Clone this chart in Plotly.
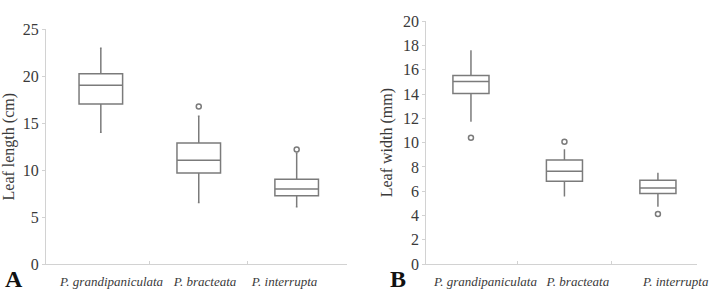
import plotly.graph_objects as go

# ---- data ----
species = ["P. grandipaniculata", "P. bracteata", "P. interrupta"]

# Panel A: leaf length (cm)
len_lower = [14.05, 6.55, 6.1]
len_q1 = [17.05, 9.7, 7.27]
len_median = [19.05, 11.05, 8.0]
len_q3 = [20.28, 12.9, 9.04]
len_upper = [23.0, 15.75, 11.8]
len_outlier_idx = [1, 2]
len_outlier_val = [16.8, 12.2]

# Panel B: leaf width (mm)
wid_lower = [11.78, 5.62, 4.79]
wid_q1 = [14.05, 6.83, 5.82]
wid_median = [15.04, 7.64, 6.27]
wid_q3 = [15.53, 8.57, 6.91]
wid_upper = [17.55, 9.4, 7.45]
wid_outlier_idx = [0, 1, 2]
wid_outlier_val = [10.4, 10.07, 4.12]

len_ticks = [0, 5, 10, 15, 20, 25]
wid_ticks = [0, 2, 4, 6, 8, 10, 12, 14, 16, 18, 20]

# ---- style ----
BOX = "#7b7b7b"
AX = "#d2d2d2"
TXT = "#3a3a3a"
FONT = "Liberation Serif, Times New Roman, serif"
pos = [0, 1, 2]
labA_pos = [0.11, 1.064, 1.876]
labB_pos = [0.155, 1.144, 2.19]

fig = go.Figure()

fig.add_trace(go.Box(
    x=pos, q1=len_q1, median=len_median, q3=len_q3,
    lowerfence=len_lower, upperfence=len_upper,
    width=0.445, whiskerwidth=0.04, fillcolor="white",
    line=dict(color=BOX, width=1.5), boxpoints=False,
    xaxis="x", yaxis="y", showlegend=False, hoverinfo="skip"))
fig.add_trace(go.Scatter(
    x=len_outlier_idx, y=len_outlier_val, mode="markers",
    marker=dict(symbol="circle-open", size=5, color=BOX, line=dict(width=1.5)),
    xaxis="x", yaxis="y", showlegend=False))

fig.add_trace(go.Box(
    x=pos, q1=wid_q1, median=wid_median, q3=wid_q3,
    lowerfence=wid_lower, upperfence=wid_upper,
    width=0.386, whiskerwidth=0.04, fillcolor="white",
    line=dict(color=BOX, width=1.5), boxpoints=False,
    xaxis="x2", yaxis="y2", showlegend=False, hoverinfo="skip"))
fig.add_trace(go.Scatter(
    x=wid_outlier_idx, y=wid_outlier_val, mode="markers",
    marker=dict(symbol="circle-open", size=5, color=BOX, line=dict(width=1.5)),
    xaxis="x2", yaxis="y2", showlegend=False))

H = 296.0
yb = (H - 271.7) / H

common_x = dict(showgrid=False, zeroline=False, showline=True, linecolor=AX, linewidth=1,
                ticks="", ticklabelstandoff=5, tickfont=dict(family=FONT, size=13, color=TXT),
                minor=dict(tickvals=[0.5, 1.5], ticks="inside", ticklen=3, tickcolor=AX))
common_y = dict(showgrid=False, zeroline=False, showline=True, linecolor=AX, linewidth=1,
                ticks="outside", ticklen=3, tickcolor=AX,
                tickfont=dict(family=FONT, size=16, color=TXT))

fig.update_layout(
    width=720, height=296, margin=dict(l=0, r=0, t=0, b=0),
    paper_bgcolor="white", plot_bgcolor="white",
    xaxis=dict(domain=[46.7 / 720, 352 / 720], range=[-0.56, 2.51],
               tickvals=labA_pos, ticktext=["<i>%s</i>" % s for s in species],
               anchor="y", **common_x),
    yaxis=dict(domain=[yb, (H - 22.7) / H], range=[0, 25], tickvals=len_ticks,
               anchor="x",
               title=dict(text="Leaf length (cm)", font=dict(family=FONT, size=16, color=TXT),
                          standoff=6),
               **common_y),
    xaxis2=dict(domain=[432.7 / 720, 708 / 720], range=[-0.48, 2.42],
                tickvals=labB_pos, ticktext=["<i>%s</i>" % s for s in species],
                anchor="y2", **common_x),
    yaxis2=dict(domain=[yb, (H - 14) / H], range=[0, 20], tickvals=wid_ticks,
                anchor="x2",
                title=dict(text="Leaf width (mm)", font=dict(family=FONT, size=16, color=TXT),
                           standoff=6),
                **common_y),
    annotations=[
        dict(text="<b>A</b>", x=3 / 720, y=(H - 287) / H, xref="paper", yref="paper",
             xanchor="left", yanchor="middle", showarrow=False,
             font=dict(family=FONT, size=24, color="#111")),
        dict(text="<b>B</b>", x=394 / 720, y=(H - 287) / H, xref="paper", yref="paper",
             xanchor="left", yanchor="middle", showarrow=False,
             font=dict(family=FONT, size=24, color="#111")),
    ],
)

fig.write_html("out.html")
